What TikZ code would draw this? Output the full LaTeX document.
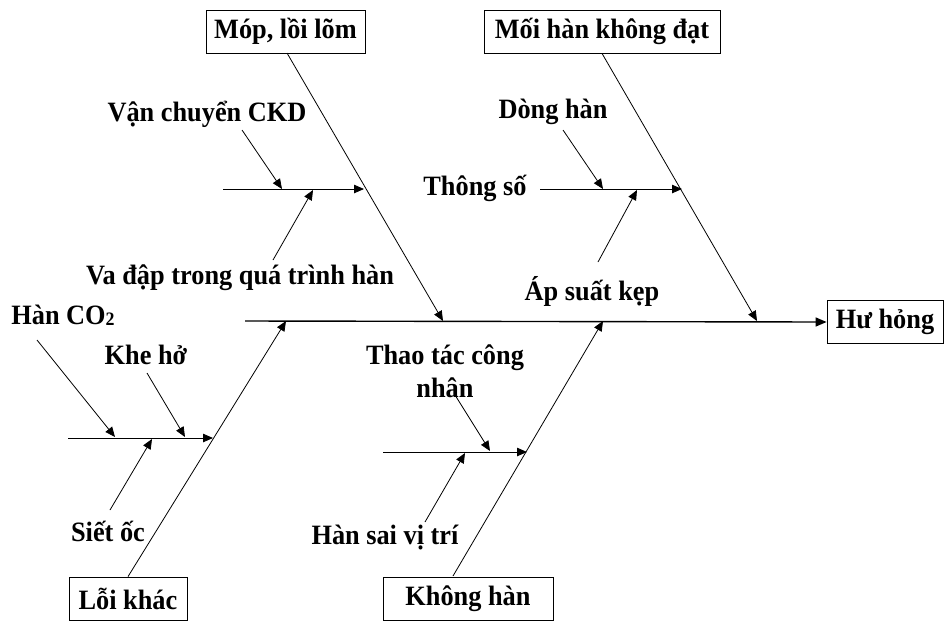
\documentclass[tikz,border=0pt]{standalone}
\usepackage{fontspec}
\setmainfont[FakeStretch=0.94]{Liberation Serif}
\usetikzlibrary{arrows.meta}
\tikzset{
  box/.style={draw, line width=0.8pt, minimum height=43pt, inner sep=0pt, font=\fontsize{28}{30}\selectfont\bfseries},
  lbl/.style={inner sep=0pt, font=\fontsize{28}{30}\selectfont\bfseries, align=center},
  bone/.style={line width=0.8pt, -{Triangle[length=10pt,width=8.5pt]}},
  spine/.style={line width=1.4pt, -{Triangle[length=11pt,width=9pt]}},
}
\begin{document}
\begin{tikzpicture}[x=1pt,y=-1pt]
\useasboundingbox (0,0) rectangle (944,622);
% boxes
\node[box, minimum width=159pt] (mop) at (285.5,31.5) {Móp, lồi lõm};
\node[box, minimum width=236pt] (moi) at (602,31.5) {Mối hàn không đạt};
\node[box, minimum width=118pt] (loi) at (128,598.5) {Lỗi khác};
\node[box, minimum width=170pt] (khong) at (468,598.5) {Không hàn};
\node[box, minimum width=116pt] (hu) at (885,322) {Hư hỏng};
% labels
\node[lbl] (vc) at (207,114) {Vận chuyển CKD};
\node[lbl] (vd) at (240,278) {Va đập trong quá trình hàn};
\node[lbl] (dh) at (553,112) {Dòng hàn};
\node[lbl] (ts) at (475,188) {Thông số};
\node[lbl] (as) at (592,291) {Áp suất kẹp};
\node[lbl] (co) at (63,315) {Hàn CO\raisebox{-1pt}{\fontsize{19}{19}\selectfont 2}};
\node[lbl] (kh) at (146,355) {Khe hở};
\node[lbl] (so) at (108,531) {Siết ốc};
\node[lbl, execute at begin node=\setlength{\baselineskip}{33pt}] (tt) at (445,371) {Thao tác công\\nhân};
\node[lbl] (hs) at (385,538) {Hàn sai vị trí};
% coordinates
\coordinate (s0) at (245,321);
\coordinate (mopS) at (287,53);
\coordinate (mopE) at (443,321);
\coordinate (moiE) at (757,321);
\coordinate (loiE) at (286,321);
\coordinate (khS) at (453,576);
\coordinate (khE) at (603,321);
\coordinate (a0) at (223,189); \coordinate (a1) at (364,189);
\coordinate (b0) at (540,189); \coordinate (b1) at (682,189);
\coordinate (c0) at (68,438);  \coordinate (c1) at (213,438);
\coordinate (d0) at (383,452); \coordinate (d1) at (527,452);
\coordinate (vc0) at (242,130); \coordinate (vc1) at (282,189);
\coordinate (vd0) at (273,260); \coordinate (vd1) at (313,190);
\coordinate (dh0) at (563,130); \coordinate (dh1) at (603,189);
\coordinate (as0) at (598,262); \coordinate (as1) at (637,190);
\coordinate (co0) at (37,340);  \coordinate (co1) at (115,437);
\coordinate (kh0) at (147,373); \coordinate (kh1) at (185,437);
\coordinate (so0) at (110,510); \coordinate (so1) at (152,439);
\coordinate (tt0) at (455,395); \coordinate (tt1) at (490,451);
\coordinate (hs0) at (425,522); \coordinate (hs1) at (465,453);
% spine
\draw[spine] (s0) -- (hu.west);
% main bones
\draw[bone] (mopS) -- (mopE);
\draw[bone] (moi.south) -- (moiE);
\draw[bone] (loi.north) -- (loiE);
\draw[bone] (khS) -- (khE);
% sub bones
\draw[bone] (a0) -- (a1);
\draw[bone] (b0) -- (b1);
\draw[bone] (c0) -- (c1);
\draw[bone] (d0) -- (d1);
% causes
\draw[bone] (vc0) -- (vc1);
\draw[bone] (vd0) -- (vd1);
\draw[bone] (dh0) -- (dh1);
\draw[bone] (as0) -- (as1);
\draw[bone] (co0) -- (co1);
\draw[bone] (kh0) -- (kh1);
\draw[bone] (so0) -- (so1);
\draw[bone] (tt0) -- (tt1);
\draw[bone] (hs0) -- (hs1);
\end{tikzpicture}
\end{document}
